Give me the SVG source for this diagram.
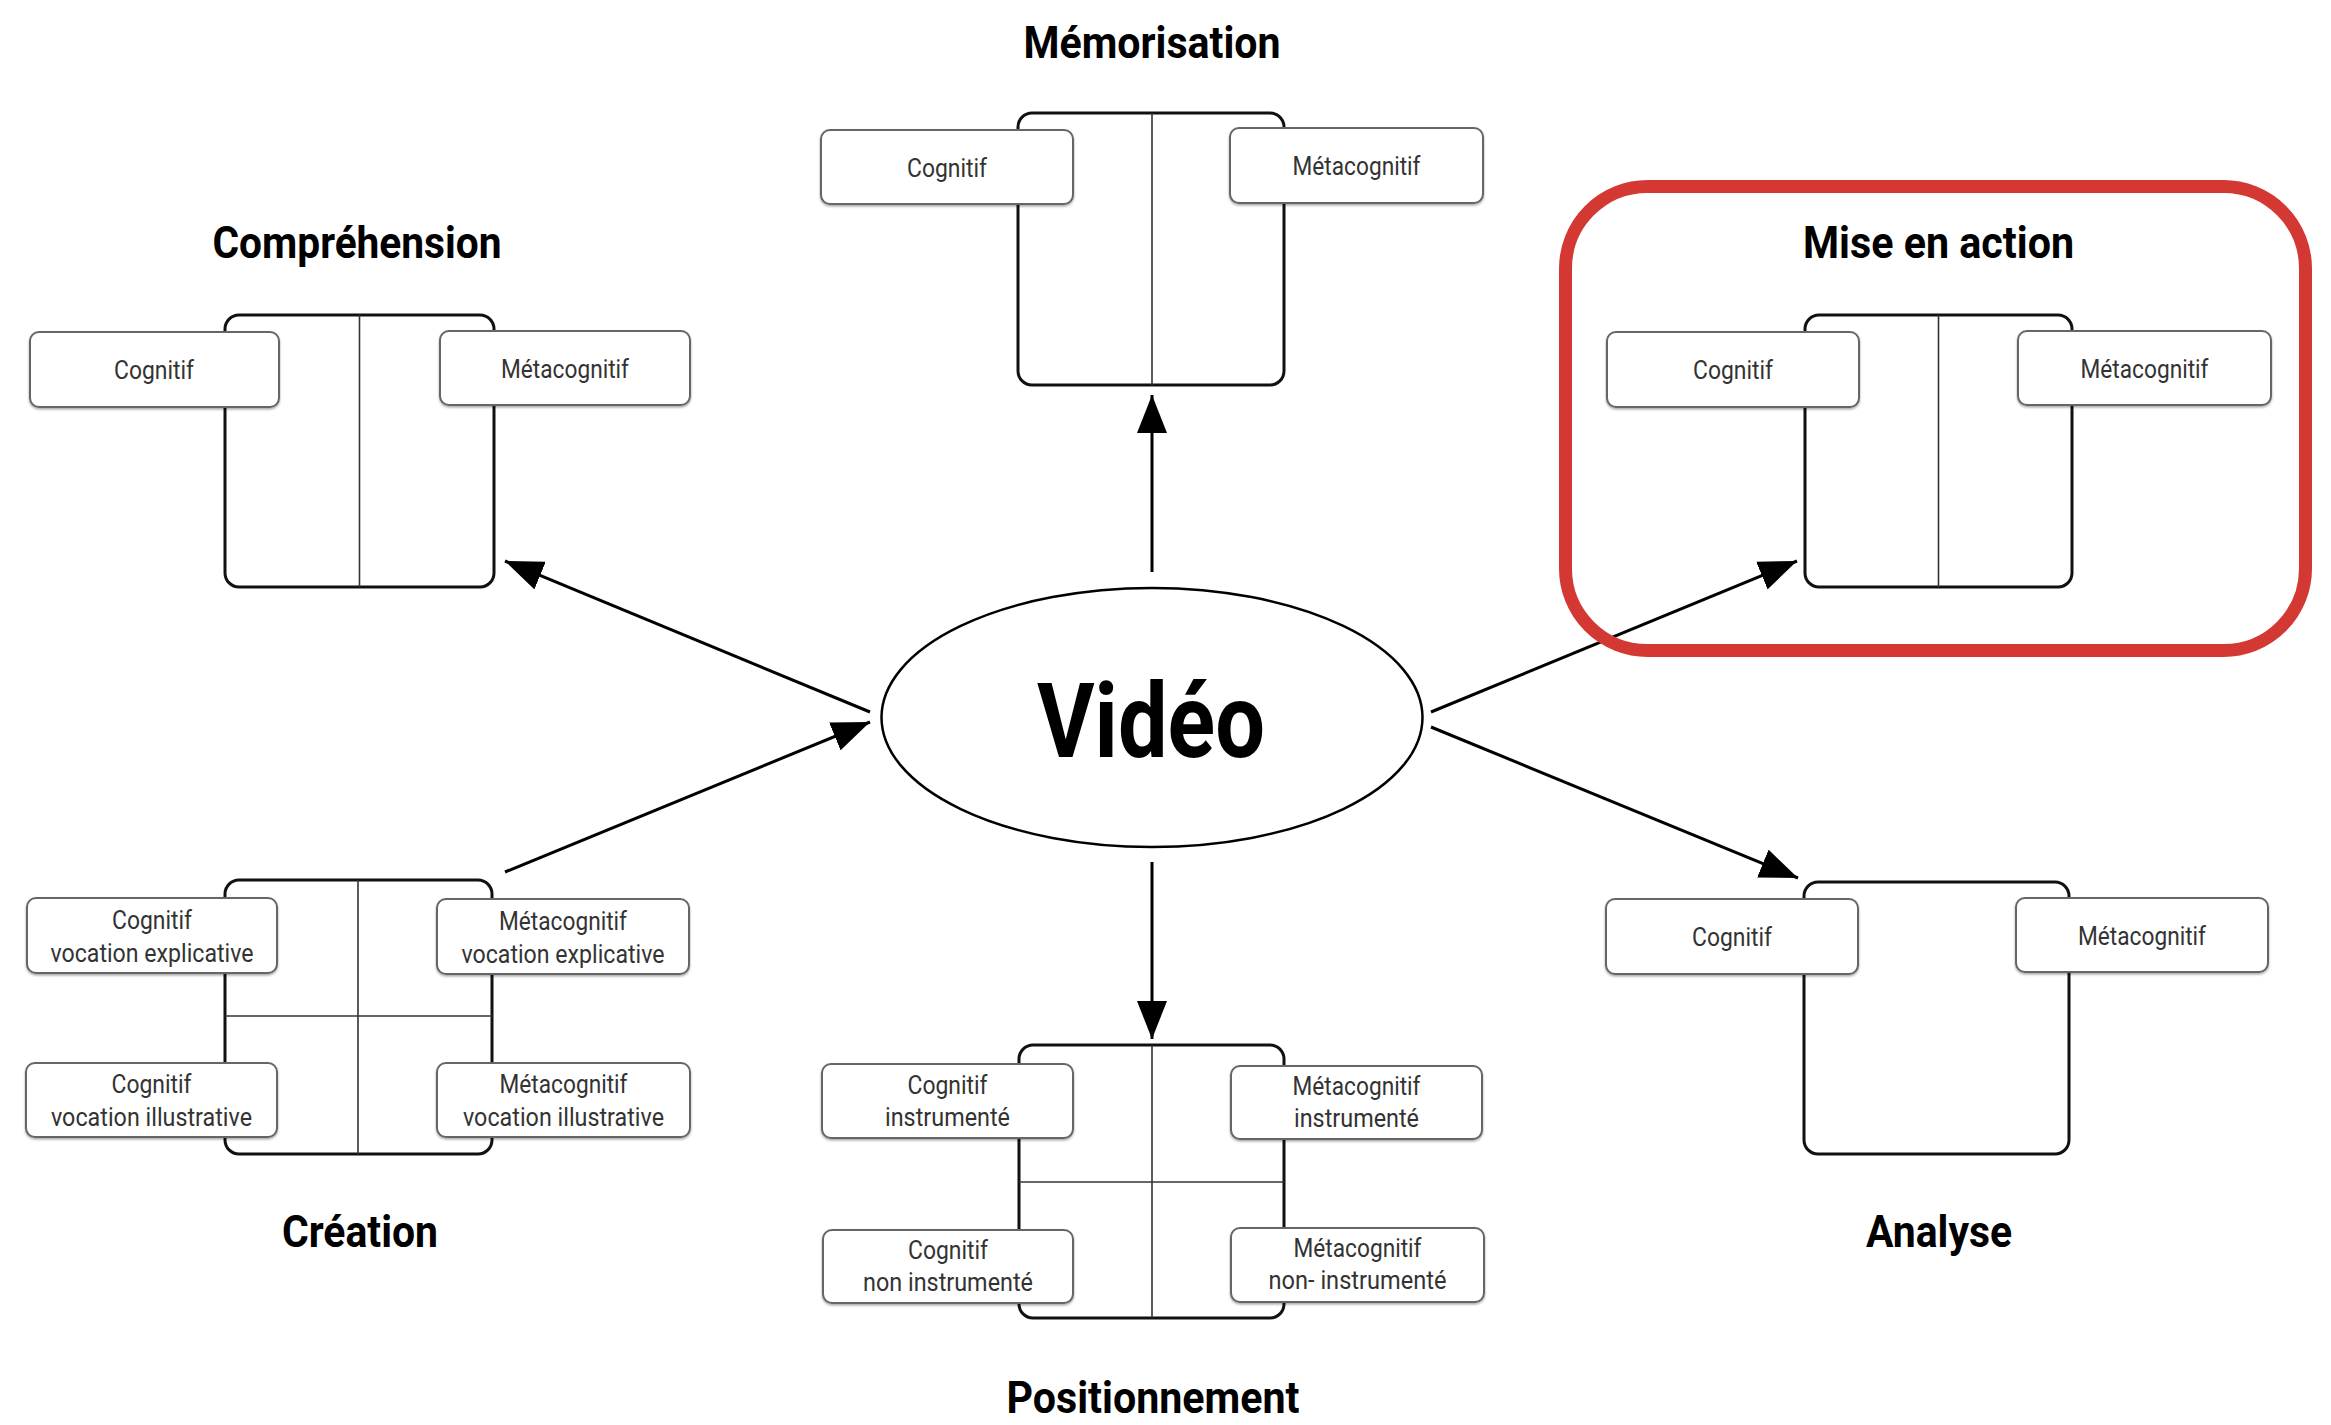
<svg xmlns="http://www.w3.org/2000/svg" width="2331" height="1425" viewBox="0 0 2331 1425">
<defs>
<style>
.title{font-family:Roboto,"Liberation Sans",sans-serif;font-weight:bold;font-size:45px;fill:#000;text-anchor:middle}
.main{font-family:Roboto,"Liberation Sans",sans-serif;font-weight:bold;font-size:104px;fill:#000;text-anchor:middle}
.lbl{font-family:Roboto,"Liberation Sans",sans-serif;font-size:26px;fill:#333;text-anchor:middle}
.box{fill:#fff;stroke:#111;stroke-width:3}
.div{stroke:#333;stroke-width:1.6;fill:none}
.tag{fill:#fff;stroke:#666;stroke-width:2;filter:url(#sh)}
.con{stroke:#000;stroke-width:3;fill:none;marker-end:url(#ah)}
</style>
<filter id="sh" x="-5%" y="-10%" width="110%" height="130%">
<feDropShadow dx="0" dy="1.5" stdDeviation="1" flood-color="#000" flood-opacity="0.35"/>
</filter>
<marker id="ah" markerUnits="userSpaceOnUse" markerWidth="40" markerHeight="30" refX="38" refY="15" orient="auto">
<path d="M0,0 L38,15 L0,30 z" fill="#000"/>
</marker>
</defs>
<rect width="2331" height="1425" fill="#fff"/>

<g id="connectors">
<line class="con" x1="1152" y1="572" x2="1152" y2="395"/>
<line class="con" x1="1152" y1="862" x2="1152" y2="1039"/>
<line class="con" x1="870" y1="712" x2="505" y2="561"/>
<line class="con" x1="505" y1="872" x2="870" y2="722"/>
<line class="con" x1="1431" y1="712" x2="1797" y2="561"/>
<line class="con" x1="1431" y1="727" x2="1798" y2="878"/>
</g>

<g id="video">
<ellipse cx="1152" cy="717.5" rx="270.5" ry="129.5" fill="#fff" stroke="#000" stroke-width="2.5"/>
<text class="main" x="1151" y="757" textLength="228" lengthAdjust="spacingAndGlyphs">Vidéo</text>
</g>

<g id="memorisation">
<text class="title" x="1152" y="58" textLength="257" lengthAdjust="spacingAndGlyphs">Mémorisation</text>
<rect class="box" x="1018" y="113" width="266" height="272" rx="14"/>
<line class="div" x1="1152" y1="113" x2="1152" y2="385"/>
<rect class="tag" x="821" y="130" width="252" height="74" rx="9"/>
<text class="lbl" x="947" y="176.5" textLength="80" lengthAdjust="spacingAndGlyphs">Cognitif</text>
<rect class="tag" x="1230" y="128" width="253" height="75" rx="9"/>
<text class="lbl" x="1356.5" y="175" textLength="128" lengthAdjust="spacingAndGlyphs">Métacognitif</text>
</g>

<g id="comprehension">
<text class="title" x="357" y="258" textLength="289" lengthAdjust="spacingAndGlyphs">Compréhension</text>
<rect class="box" x="225" y="315" width="269" height="272" rx="14"/>
<line class="div" x1="359.5" y1="315" x2="359.5" y2="587"/>
<rect class="tag" x="30" y="332" width="249" height="75" rx="9"/>
<text class="lbl" x="154" y="379" textLength="80" lengthAdjust="spacingAndGlyphs">Cognitif</text>
<rect class="tag" x="440" y="331" width="250" height="74" rx="9"/>
<text class="lbl" x="565" y="377.5" textLength="128" lengthAdjust="spacingAndGlyphs">Métacognitif</text>
</g>

<g id="mise-en-action">
<rect x="1565.5" y="186.5" width="740" height="464" rx="82" fill="none" stroke="#D33833" stroke-width="13"/>
<text class="title" x="1938.5" y="258" textLength="271" lengthAdjust="spacingAndGlyphs">Mise en action</text>
<rect class="box" x="1805" y="315" width="267" height="272" rx="14"/>
<line class="div" x1="1938.5" y1="315" x2="1938.5" y2="587"/>
<rect class="tag" x="1607" y="332" width="252" height="75" rx="9"/>
<text class="lbl" x="1733" y="379" textLength="80" lengthAdjust="spacingAndGlyphs">Cognitif</text>
<rect class="tag" x="2018" y="331" width="253" height="74" rx="9"/>
<text class="lbl" x="2144.5" y="377.5" textLength="128" lengthAdjust="spacingAndGlyphs">Métacognitif</text>
</g>

<g id="creation">
<rect class="box" x="225" y="880" width="267" height="274" rx="14"/>
<line class="div" x1="358" y1="880" x2="358" y2="1154"/>
<line class="div" x1="225" y1="1016" x2="492" y2="1016"/>
<rect class="tag" x="27" y="898" width="250" height="75" rx="9"/>
<text class="lbl" x="152" y="929" textLength="80" lengthAdjust="spacingAndGlyphs">Cognitif</text>
<text class="lbl" x="152" y="962" textLength="203" lengthAdjust="spacingAndGlyphs">vocation explicative</text>
<rect class="tag" x="437" y="899" width="252" height="75" rx="9"/>
<text class="lbl" x="563" y="930" textLength="128" lengthAdjust="spacingAndGlyphs">Métacognitif</text>
<text class="lbl" x="563" y="963" textLength="203" lengthAdjust="spacingAndGlyphs">vocation explicative</text>
<rect class="tag" x="26" y="1063" width="251" height="74" rx="9"/>
<text class="lbl" x="151.5" y="1093" textLength="80" lengthAdjust="spacingAndGlyphs">Cognitif</text>
<text class="lbl" x="151.5" y="1126" textLength="201" lengthAdjust="spacingAndGlyphs">vocation illustrative</text>
<rect class="tag" x="437" y="1063" width="253" height="74" rx="9"/>
<text class="lbl" x="563.5" y="1093" textLength="128" lengthAdjust="spacingAndGlyphs">Métacognitif</text>
<text class="lbl" x="563.5" y="1126" textLength="201" lengthAdjust="spacingAndGlyphs">vocation illustrative</text>
<text class="title" x="360" y="1247" textLength="156" lengthAdjust="spacingAndGlyphs">Création</text>
</g>

<g id="positionnement">
<rect class="box" x="1019" y="1045" width="265" height="273" rx="14"/>
<line class="div" x1="1152" y1="1045" x2="1152" y2="1318"/>
<line class="div" x1="1019" y1="1182" x2="1284" y2="1182"/>
<rect class="tag" x="822" y="1064" width="251" height="74" rx="9"/>
<text class="lbl" x="947.5" y="1094" textLength="80" lengthAdjust="spacingAndGlyphs">Cognitif</text>
<text class="lbl" x="947.5" y="1126" textLength="125" lengthAdjust="spacingAndGlyphs">instrumenté</text>
<rect class="tag" x="1231" y="1066" width="251" height="73" rx="9"/>
<text class="lbl" x="1356.5" y="1095" textLength="128" lengthAdjust="spacingAndGlyphs">Métacognitif</text>
<text class="lbl" x="1356.5" y="1127" textLength="125" lengthAdjust="spacingAndGlyphs">instrumenté</text>
<rect class="tag" x="823" y="1230" width="250" height="73" rx="9"/>
<text class="lbl" x="948" y="1259" textLength="80" lengthAdjust="spacingAndGlyphs">Cognitif</text>
<text class="lbl" x="948" y="1291" textLength="170" lengthAdjust="spacingAndGlyphs">non instrumenté</text>
<rect class="tag" x="1231" y="1228" width="253" height="74" rx="9"/>
<text class="lbl" x="1357.5" y="1257" textLength="128" lengthAdjust="spacingAndGlyphs">Métacognitif</text>
<text class="lbl" x="1357.5" y="1289" textLength="178" lengthAdjust="spacingAndGlyphs">non- instrumenté</text>
<text class="title" x="1153" y="1413" textLength="293" lengthAdjust="spacingAndGlyphs">Positionnement</text>
</g>

<g id="analyse">
<rect class="box" x="1804" y="882" width="265" height="272" rx="14"/>
<rect class="tag" x="1606" y="899" width="252" height="75" rx="9"/>
<text class="lbl" x="1732" y="946" textLength="80" lengthAdjust="spacingAndGlyphs">Cognitif</text>
<rect class="tag" x="2016" y="898" width="252" height="74" rx="9"/>
<text class="lbl" x="2142" y="944.5" textLength="128" lengthAdjust="spacingAndGlyphs">Métacognitif</text>
<text class="title" x="1939" y="1247" textLength="146" lengthAdjust="spacingAndGlyphs">Analyse</text>
</g>
</svg>
